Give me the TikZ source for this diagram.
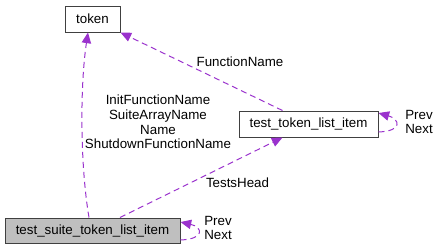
\documentclass[tikz,border=0pt]{standalone}
\usepackage{fontspec}
\setmainfont{Liberation Sans}
\usetikzlibrary{arrows.meta,calc}
\definecolor{edgepurple}{RGB}{154,50,205}
\definecolor{boxgray}{RGB}{191,191,191}
\begin{document}
\begin{tikzpicture}[x=0.75pt,y=-0.75pt,
  every node/.style={font=\fontsize{10}{11}\selectfont},
  classbox/.style={draw=black!75, line width=0.75pt, fill=white,
    minimum height=19.5pt, inner sep=0pt},
  rel/.style={draw=edgepurple, dash pattern=on 4.5pt off 3pt, line width=0.75pt,
    -{Triangle[length=8pt,width=7pt,fill=edgepurple]}},
  lbl/.style={align=center, inner sep=0pt}
]
\useasboundingbox (0,0) rectangle (439,251);

% classes
\node[classbox, minimum width=41.25pt] (token) at (92.5,19) {token};
\node[classbox, minimum width=104.25pt] (ttl) at (308.5,124) {test\_token\_list\_item};
\node[classbox, fill=boxgray, minimum width=131.25pt, minimum height=18.75pt]
  (suite) at (92.5,230.5) {test\_suite\_token\_list\_item};

% relations
\draw[rel] ($(suite.north)+(-3.5,0)$)
  .. controls ($(suite.north)+(-12.5,-53)$) and ($(token.south)+(-12.5,53)$)
  .. ($(token.south)+(-4.5,0)$);
\draw[rel] ($(ttl.north)+(-26,0)$) -- (token.south east);
\draw[rel] ($(suite.north)+(27.5,0)$) -- ($(ttl.south)+(-26,0)$);
\draw[rel] ($(ttl.east)+(0,8)$) .. controls +(25,-1) and +(21,6) .. ($(ttl.east)+(0,-11)$);
\draw[rel] ($(suite.east)+(0,9.5)$) .. controls +(25,-1) and +(22,5) .. ($(suite.east)+(0,-8.5)$);

% relation labels
\node[lbl] (fnlbl) at (240,62) {FunctionName};
\node[lbl] (namelbl) at (158,122) {InitFunctionName\\SuiteArrayName\\Name\\ShutdownFunctionName};
\node[lbl] (headlbl) at (237.5,183) {TestsHead};
\node[lbl] (ttlloop) at (419,122) {Prev\\Next};
\node[lbl] (suiteloop) at (218,228) {Prev\\Next};
\end{tikzpicture}
\end{document}
